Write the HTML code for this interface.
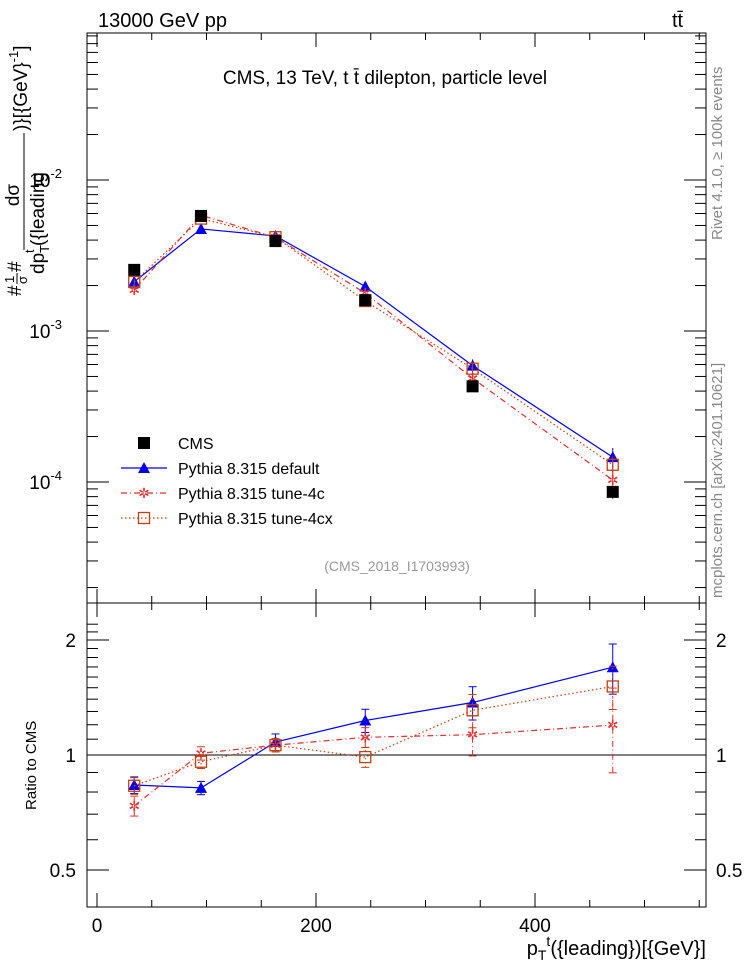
<!DOCTYPE html>
<html><head><meta charset="utf-8"><style>
body{margin:0;background:#fff;}
text{font-family:"Liberation Sans",sans-serif;}
</style></head><body>
<svg id="c" width="746" height="972" xmlns="http://www.w3.org/2000/svg">
<rect width="746" height="972" fill="#fff"/>
<text x="98" y="27" font-size="20">13000 GeV pp</text>
<text x="672" y="27" font-size="20">tt̄</text>
<text x="385" y="84" font-size="19" text-anchor="middle">CMS, 13 TeV, t t̄ dilepton, particle level</text>
<text x="397" y="571" font-size="14" fill="#999" text-anchor="middle">(CMS_2018_I1703993)</text>
<text transform="translate(722,240) rotate(-90)" font-size="15" fill="#888">Rivet 4.1.0, ≥ 100k events</text>
<text transform="translate(722,598) rotate(-90)" font-size="15" fill="#888">mcplots.cern.ch [arXiv:2401.10621]</text>
<g transform="translate(27,296) rotate(-90)">
 <text x="0" y="-6" font-size="19">#</text>
 <text x="13" y="-13" font-size="13">1</text>
 <line x1="12" x2="23" y1="-10" y2="-10" stroke="#000"/>
 <text x="12" y="0" font-size="13">σ</text>
 <text x="24" y="-6" font-size="19">#</text>
 <text x="101" y="-8" font-size="19" text-anchor="middle">dσ</text>
 <line x1="46" x2="163" y1="-3" y2="-3" stroke="#000"/>
 <text x="22" y="17" font-size="19">dp<tspan font-size="13" dy="5">T</tspan><tspan font-size="13" x="43" dy="-15">t</tspan><tspan dy="10" x="50">({leading</tspan></text>
 <text x="165" y="0" font-size="19">)}[{GeV}<tspan font-size="13" dy="-9">-1</tspan><tspan dy="9">]</tspan></text>
</g>
<text transform="translate(36,810) rotate(-90)" font-size="15">Ratio to CMS</text>
<text x="706" y="955" font-size="20" text-anchor="end">p<tspan font-size="14" dy="5">T</tspan><tspan font-size="14" dy="-14">t</tspan><tspan dy="9">({leading})[{GeV}]</tspan></text>
<g id="main"></g>
<g id="ratio"></g>
<g id="legend"></g>
</svg>
<script>
const xVals=[34,95,163,245,343,471];
const cms=[2.54e-3,5.78e-3,3.94e-3,1.6e-3,4.3e-4,8.6e-5];
const pDefault=[2.12e-3,4.74e-3,4.26e-3,1.97e-3,5.9e-4,1.46e-4];
const pDefaultErr=[0.05,0.04,0.05,0.07,0.1,0.15];
const p4c=[1.87e-3,5.84e-3,4.18e-3,1.78e-3,4.86e-4,1.03e-4];
const p4cErr=[0.06,0.04,0.04,0.06,0.12,0.25];
const p4cx=[2.11e-3,5.55e-3,4.18e-3,1.58e-3,5.63e-4,1.3e-4];
const p4cxErr=[0.05,0.04,0.04,0.06,0.1,0.13];
const xTicks=[0,200,400];
const yTicksExp=[-4,-3,-2];
const rTicks=[0.5,1,2];
const ns="http://www.w3.org/2000/svg";
const L=87,R=706,T=33,B=603,RB=907;
const X=v=>97+v*1.095;
const Y=v=>180-(Math.log10(v)+2)*151;
const RY=v=>755-Math.log10(v)*382;
function mk(tag,attrs,parent,txt){const e=document.createElementNS(ns,tag);for(const k in attrs)e.setAttribute(k,attrs[k]);if(txt!==undefined)e.textContent=txt;parent.appendChild(e);return e;}
const main=document.getElementById('main'),ratio=document.getElementById('ratio'),leg=document.getElementById('legend');
let f=mk('rect',{x:L,y:T,width:R-L,height:B-T,fill:'none',stroke:'#000','stroke-width':1},main);


f=mk('rect',{x:L,y:B,width:R-L,height:RB-B,fill:'none',stroke:'#000','stroke-width':1},ratio);


for(let v=0;v<=550;v+=50){const big=v%200===0;const l=big?14:7;
 for(const[y0,d] of [[B,-1],[T,1],[RB,-1],[B,1]]){mk('line',{x1:X(v),x2:X(v),y1:y0,y2:y0+d*l,stroke:'#000'},main);}}
xTicks.forEach(v=>{const t=mk('text',{x:X(v),y:932,'font-size':19,'text-anchor':'middle'},ratio,String(v));

});
for(let e=-5;e<=-1;e++)for(let m=1;m<10;m++){const v=m*Math.pow(10,e);const y=Y(v);if(y<T||y>B)continue;const l=m===1?22:11;
 mk('line',{x1:L,x2:L+l,y1:y,y2:y,stroke:'#000'},main);mk('line',{x1:R,x2:R-l,y1:y,y2:y,stroke:'#000'},main);}
yTicksExp.forEach(e=>{const t=mk('text',{x:62,y:Y(Math.pow(10,e))+7,'font-size':19,'text-anchor':'end'},main);


t.textContent='10';mk('tspan',{dy:-9,'font-size':13},t,String(e));});
for(let v=0.4;v<=2.3;v+=0.1){const y=RY(v);if(y<B||y>RB)continue;const big=[0.5,1,2].some(q=>Math.abs(q-v)<1e-6);const l=big?22:11;
 mk('line',{x1:L,x2:L+l,y1:y,y2:y,stroke:'#000'},ratio);mk('line',{x1:R,x2:R-l,y1:y,y2:y,stroke:'#000'},ratio);}
rTicks.forEach(v=>{let t=mk('text',{x:76,y:RY(v)+7,'font-size':19,'text-anchor':'end'},ratio,String(v));


t=mk('text',{x:716,y:RY(v)+7,'font-size':19},ratio,String(v));

});
mk('line',{x1:L,x2:R,y1:RY(1),y2:RY(1),stroke:'#000'},ratio);
function marker(type,x,y,col,g){
 if(type==='sq')return mk('rect',{x:x-6,y:y-6,width:12,height:12,fill:'#000'},g);
 if(type==='tri')return mk('path',{d:`M${x} ${y-6}L${x+6} ${y+5}L${x-6} ${y+5}Z`,fill:col},g);
 if(type==='star')return mk('text',{x:x,y:y+5,'font-size':14,fill:col,'text-anchor':'middle'},g,'✲');
 if(type==='osq')return mk('rect',{x:x-5.5,y:y-5.5,width:11,height:11,fill:'none',stroke:col,'stroke-width':1.3},g);
}
const series=[
 {name:'pythia-default',vals:pDefault,err:pDefaultErr,col:'#0000ee',dash:'',m:'tri'},
 {name:'pythia-tune-4c',vals:p4c,err:p4cErr,col:'#e03030',dash:'6 3 1 3',m:'star'},
 {name:'pythia-tune-4cx',vals:p4cx,err:p4cxErr,col:'#c04010',dash:'1.5 2.5',m:'osq'}];
series.forEach(s=>{
 const pts=xVals.map((x,i)=>X(x)+','+Y(s.vals[i])).join(' ');
 let p=mk('polyline',{points:pts,fill:'none',stroke:s.col,'stroke-dasharray':s.dash,'stroke-width':1.2},main);
 
 
 const rp=xVals.map((x,i)=>X(x)+','+RY(s.vals[i]/cms[i])).join(' ');
 p=mk('polyline',{points:rp,fill:'none',stroke:s.col,'stroke-dasharray':s.dash,'stroke-width':1.2},ratio);
 
 
 xVals.forEach((x,i)=>{const v=s.vals[i],e=s.err[i],r=v/cms[i];
  mk('line',{x1:X(x),x2:X(x),y1:Y(v*(1-e)),y2:Y(v*(1+e)),stroke:s.col},main);
  mk('line',{x1:X(x),x2:X(x),y1:RY(r*(1-e)),y2:RY(r*(1+e)),stroke:s.col,'stroke-dasharray':s.dash},ratio);
  [r*(1-e),r*(1+e)].forEach(q=>mk('line',{x1:X(x)-4,x2:X(x)+4,y1:RY(q),y2:RY(q),stroke:s.col},ratio));
  let m=marker(s.m,X(x),Y(v),s.col,main);
  
  
  m=marker(s.m,X(x),RY(r),s.col,ratio);
  
  
 });
});
xVals.forEach((x,i)=>{const m=marker('sq',X(x),Y(cms[i]),'#000',main);
 
 });
const items=[['CMS','sq','#000',''],['Pythia 8.315 default','tri','#0000ee',''],['Pythia 8.315 tune-4c','star','#e03030','6 3 1 3'],['Pythia 8.315 tune-4cx','osq','#c04010','1.5 2.5']];
items.forEach((it,i)=>{const y=443+i*25;const g=mk('g',{},leg);
 
 
 if(i>0)mk('line',{x1:121,x2:167,y1:y,y2:y,stroke:it[2],'stroke-dasharray':it[3],'stroke-width':1.2},g);
 marker(it[1],144,y,it[2],g);
 mk('text',{x:178,y:y+6,'font-size':16},g,it[0]);});
</script>
</body></html>
